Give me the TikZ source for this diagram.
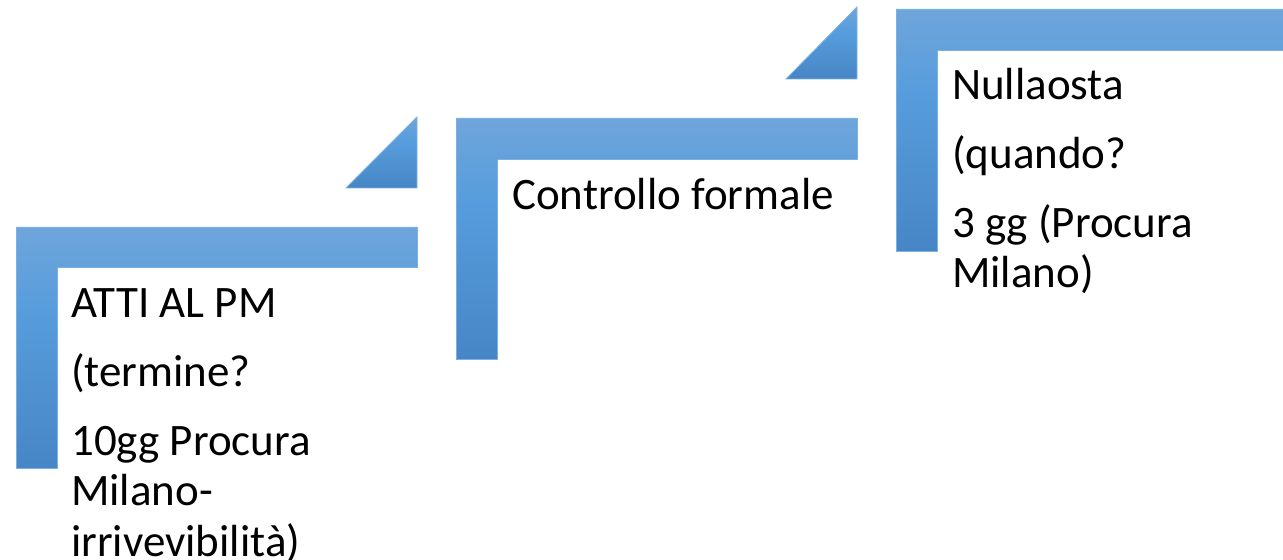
\documentclass[tikz,border=0pt]{standalone}
\usepackage{fontspec}
\setmainfont{Carlito}
\definecolor{steptop}{HTML}{6FA5DB}
\definecolor{stepmid}{HTML}{569CDC}
\definecolor{stepbot}{HTML}{4786C6}
\definecolor{stepedge}{HTML}{7DB0E2}
% vertical gradient of the step shapes: light at the top, deeper at the bottom
\pgfdeclareverticalshading{stepgrad}{100bp}{%
  color(0bp)=(stepbot); color(25bp)=(stepbot); color(57bp)=(stepmid);
  color(75bp)=(steptop); color(100bp)=(steptop)}
\tikzset{
  stepshape/.style={shading=stepgrad, draw=stepedge, line width=0.8bp},
  steptext/.style={anchor=base west, inner sep=0pt, text=black,
    font=\fontsize{45bp}{50bp}\selectfont},
}
\newcommand{\steppara}[1]{\parbox[t]{360bp}{\raggedright #1}}
\begin{document}
\begin{tikzpicture}[x=1bp, y=-1bp]
  \useasboundingbox (0,0) rectangle (1283,560);
  \clip (0,0) rectangle (1283,560);

  % step 1
  \path[stepshape] (16,227) -- (417,227) -- (417,267) -- (57,267)
    -- (57,468) -- (16,468) -- cycle;
  \path[stepshape] (346,188) -- (417,117) -- (417,188) -- cycle;
  \node[steptext] (t1) at (71,318) {\steppara{ATTI AL PM\\[19bp]
    (termine?\\[19bp] 10gg Procura\\Milano-\\irrivevibilità)}};

  % step 2
  \path[stepshape] (456,118) -- (857,118) -- (857,159) -- (497,159)
    -- (497,359) -- (456,359) -- cycle;
  \path[stepshape] (786,79) -- (857,7) -- (857,79) -- cycle;
  \node[steptext] (t2) at (512,210) {\steppara{Controllo formale}};

  % step 3
  \path[stepshape] (896,9) -- (1297,9) -- (1297,50) -- (937,50)
    -- (937,251) -- (896,251) -- cycle;
  \node[steptext] (t3) at (952,100) {\steppara{Nullaosta\\[19bp]
    (quando?\\[19bp] 3 gg (Procura\\Milano)}};
\end{tikzpicture}
\end{document}
